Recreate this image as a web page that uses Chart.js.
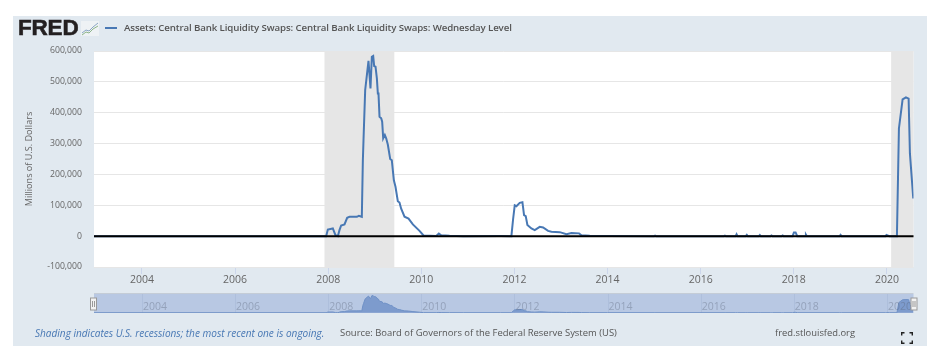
<!DOCTYPE html>
<html>
<head>
<meta charset="utf-8">
<title>Central Bank Liquidity Swaps</title>
<script src="https://cdn.jsdelivr.net/npm/chart.js@4"></script>
<style>
    html, body { margin: 0; padding: 0; background: #fff; }
    body { width: 939px; height: 363px; position: relative; overflow: hidden; font-family: "Open Sans", sans-serif; }
    #panel { position: absolute; left: 13px; top: 16px; width: 914px; height: 330px; background: #e1e9f0; }
    canvas { position: absolute; left: 0; }
    #mainChart { top: 0; }
    #navChart { top: 288px; }
    .txt { position: absolute; white-space: nowrap; }
    #logo { left: 18px; top: 15px; font: bold 22.5px/26px "Liberation Sans", sans-serif; color: #231f20; letter-spacing: -0.2px; -webkit-text-stroke: 0.6px #231f20; }
    #legendLine { position: absolute; left: 105px; top: 27px; width: 12px; height: 2px; background: #4878b4; }
    #title { left: 124px; top: 20px; font: 600 9.7px/16px "Open Sans", sans-serif; color: #555; letter-spacing: -0.12px; }
    #shading { left: 35px; top: 325px; font: italic 10.05px/16px "Open Sans", sans-serif; color: #4878b4; }
    #source { left: 340px; top: 325px; font: 9.45px/16px "Open Sans", sans-serif; color: #555; }
    #site { left: 775px; top: 325px; font: 9.4px/16px "Open Sans", sans-serif; color: #555; }
    svg { position: absolute; }
</style>
</head>
<body>
<div id="panel"></div>
<canvas id="mainChart" width="939" height="363"></canvas>
<canvas id="navChart" width="939" height="34"></canvas>
<div class="txt" id="logo">FRED</div>
<svg style="left:81px;top:21px" width="18" height="15" viewBox="0 0 18 15">
    <rect x="0" y="0" width="18" height="15" fill="#eef2f5"/>
    <polyline points="1,12 5,9 8,10 12,6 17,2" fill="none" stroke="#8aa6c4" stroke-width="1"/>
    <polyline points="1,14 5,11 8,12 12,8 17,5" fill="none" stroke="#8db58a" stroke-width="1"/>
</svg>
<div id="legendLine"></div>
<div class="txt" id="title">Assets: Central Bank Liquidity Swaps: Central Bank Liquidity Swaps: Wednesday Level</div>
<div class="txt" id="shading">Shading indicates U.S. recessions; the most recent one is ongoing.</div>
<div class="txt" id="source">Source: Board of Governors of the Federal Reserve System (US)</div>
<div class="txt" id="site">fred.stlouisfed.org</div>
<svg style="left:901px;top:332px" width="12" height="12" viewBox="0 0 12 12">
    <path d="M0.7 3.5V0.7H3.5M8.5 0.7H11.3V3.5M11.3 8.5V11.3H8.5M3.5 11.3H0.7V8.5" fill="none" stroke="#222" stroke-width="1.4"/>
</svg>
<script>
// values, x is a decimal year, y is millions of dollars
var swapYears = [
    2002.97, 2007.956, 2007.992, 2008.099, 2008.156, 2008.207, 2008.242, 2008.278, 2008.35, 2008.407,
    2008.457, 2008.615, 2008.658, 2008.722, 2008.744, 2008.758, 2008.794, 2008.865, 2008.908, 2008.937,
    2008.966, 2008.987, 2009.016, 2009.045, 2009.066, 2009.08, 2009.102, 2009.138, 2009.159, 2009.181,
    2009.216, 2009.245, 2009.281, 2009.331, 2009.366, 2009.41, 2009.445, 2009.495, 2009.531, 2009.567,
    2009.639, 2009.725, 2009.818, 2009.961, 2010.047, 2010.319, 2010.376, 2010.426, 2010.605, 2010.9,
    2011.7, 2011.934, 2011.97, 2012.006, 2012.042, 2012.113, 2012.171, 2012.206, 2012.242, 2012.278,
    2012.364, 2012.436, 2012.543, 2012.615, 2012.722, 2012.794, 2012.973, 2013.116, 2013.223, 2013.388,
    2013.438, 2013.617, 2014.0, 2015.0, 2015.02, 2015.04, 2016.5, 2016.52, 2016.54, 2016.75,
    2016.77, 2016.79, 2016.97, 2016.99, 2017.01, 2017.25, 2017.27, 2017.29, 2017.5, 2017.52,
    2017.54, 2017.74, 2017.76, 2017.78, 2017.973, 2018.002, 2018.038, 2018.073, 2018.24, 2018.26,
    2018.28, 2018.985, 2019.004, 2019.025, 2019.97, 2019.99, 2020.05, 2020.214, 2020.257, 2020.336,
    2020.408, 2020.465, 2020.493, 2020.565
];
var swapValues = [
    0, 0, 21600, 25000, 3000, 0, 19500, 34600, 37800, 59500,
    62700, 62700, 66000, 62700, 245000, 311000, 473000, 568000, 479000, 581000,
    584000, 551000, 549000, 511000, 462000, 462000, 387000, 382000, 371000, 317000,
    328000, 317000, 296000, 250000, 246000, 181000, 160000, 113000, 109000, 89000,
    63000, 57000, 38000, 17000, 2000, 500, 8600, 3000, 1000, 0,
    500, 0, 54000, 100000, 97000, 108000, 110000, 68000, 65000, 36000,
    25000, 19500, 30000, 28000, 17000, 14000, 13000, 6500, 10000, 9000,
    3000, 1000, 300, 0, 1500, 0, 0, 1500, 0, 0,
    6000, 0, 0, 4000, 0, 0, 3500, 0, 0, 2000,
    0, 0, 2000, 0, 0, 12000, 12000, 0, 0, 5000,
    0, 0, 4000, 0, 0, 4000, 0, 0, 349000, 443000,
    450000, 446000, 268000, 122000
];
var tickYears = [2004, 2006, 2008, 2010, 2012, 2014, 2016, 2018, 2020];
var yTicks = [-100000, 0, 100000, 200000, 300000, 400000, 500000, 600000];
var recessionStarts = [2007.92, 2020.09];
var recessionEnds = [2009.42, 2020.57];
var xMin = 2002.97;
var xMax = 2020.57;

function swapPoints() {
    var points = [];
    for (var i = 0; i < swapYears.length; i++) {
        points.push({ x: swapYears[i], y: swapValues[i] });
    }
    return points;
}

function setTicks(list) {
    return function(scale) {
        scale.ticks = list.map(function(v) { return { value: v }; });
    };
}

// white plot area and the grey recession bands
var plotBackground = {
    id: 'plotBackground',
    beforeDraw: function(chart) {
        var ctx = chart.ctx, area = chart.chartArea, x = chart.scales.x;
        ctx.save();
        ctx.fillStyle = '#ffffff';
        ctx.fillRect(area.left, area.top, area.right - area.left, area.bottom - area.top);
        ctx.fillStyle = '#e6e6e6';
        for (var i = 0; i < recessionStarts.length; i++) {
            var a = x.getPixelForValue(recessionStarts[i]);
            var b = x.getPixelForValue(recessionEnds[i]);
            ctx.fillRect(a, area.top, b - a, area.bottom - area.top);
        }
        ctx.restore();
    },
    // the black zero line sits on top of the series
    afterDatasetsDraw: function(chart) {
        var ctx = chart.ctx, area = chart.chartArea;
        var zero = chart.scales.y.getPixelForValue(0);
        ctx.save();
        ctx.strokeStyle = '#000000';
        ctx.lineWidth = 2;
        ctx.beginPath();
        ctx.moveTo(area.left, zero);
        ctx.lineTo(area.right, zero);
        ctx.stroke();
        ctx.restore();
    }
};

var mainChart = new Chart(document.getElementById('mainChart'), {
    type: 'line',
    data: {
        datasets: [{
            data: swapPoints(),
            borderColor: '#4878b4',
            borderWidth: 2,
            pointRadius: 0,
            tension: 0
        }]
    },
    plugins: [plotBackground],
    options: {
        responsive: false,
        animation: false,
        layout: { padding: { left: 20, right: 25.5, top: 51, bottom: 76 } },
        plugins: { legend: { display: false }, tooltip: { enabled: false } },
        scales: {
            x: {
                type: 'linear',
                min: xMin,
                max: xMax,
                afterBuildTicks: setTicks(tickYears),
                afterFit: function(scale) { scale.height = 20; },
                border: { display: false },
                grid: { drawOnChartArea: false, tickLength: 7, tickColor: '#ccd6eb' },
                ticks: {
                    padding: 0,
                    maxRotation: 0,
                    autoSkip: false,
                    color: '#666',
                    font: { family: 'Open Sans', size: 10.5 },
                    callback: function(v) { return String(v); }
                }
            },
            y: {
                min: -100000,
                max: 600000,
                afterBuildTicks: setTicks(yTicks),
                afterFit: function(scale) { scale.width = 74; },
                border: { display: false },
                title: {
                    display: true,
                    text: 'Millions of U.S. Dollars',
                    color: '#666',
                    font: { family: 'Open Sans', size: 9.1 },
                    padding: { top: 4, bottom: 0 }
                },
                grid: {
                    drawTicks: false,
                    color: '#e6e6e6',
                    lineWidth: 1
                },
                ticks: {
                    padding: 12,
                    color: '#666',
                    font: { family: 'Open Sans', size: 8.7 },
                    callback: function(v) { return v.toLocaleString('en-US'); }
                }
            }
        }
    }
});

// navigator strip: same data, its year labels sit inside the strip
function drawHandle(ctx, x, top) {
    ctx.fillStyle = '#f2f2f2';
    ctx.strokeStyle = '#999999';
    ctx.lineWidth = 1;
    ctx.fillRect(x - 3, top, 6, 12);
    ctx.strokeRect(x - 3, top, 6, 12);
    ctx.beginPath();
    ctx.moveTo(x - 1, top + 3);
    ctx.lineTo(x - 1, top + 9);
    ctx.moveTo(x + 1, top + 3);
    ctx.lineTo(x + 1, top + 9);
    ctx.stroke();
}

var navStrip = {
    id: 'navStrip',
    beforeDraw: function(chart) {
        var ctx = chart.ctx, area = chart.chartArea, x = chart.scales.x;
        ctx.save();
        ctx.fillStyle = '#b8c8e3';
        ctx.fillRect(area.left, area.top, area.right - area.left, area.bottom - area.top);
        ctx.fillStyle = '#c4ccd6';
        ctx.fillRect(area.left, area.top - 1, area.right - area.left, 1);
        ctx.strokeStyle = '#aebfdc';
        tickYears.forEach(function(year) {
            var px = Math.round(x.getPixelForValue(year)) + 0.5;
            ctx.beginPath();
            ctx.moveTo(px, area.top);
            ctx.lineTo(px, area.bottom);
            ctx.stroke();
        });
        ctx.restore();
    },
    afterDraw: function(chart) {
        var ctx = chart.ctx, area = chart.chartArea, x = chart.scales.x;
        ctx.save();
        ctx.fillStyle = 'rgba(90,100,120,0.38)';
        ctx.font = '10.5px "Open Sans"';
        ctx.textAlign = 'center';
        ctx.textBaseline = 'middle';
        tickYears.forEach(function(year) {
            ctx.fillText(String(year), x.getPixelForValue(year) + 13, area.top + 13);
        });
        drawHandle(ctx, area.left - 0.5, area.top + 4);
        drawHandle(ctx, area.right + 0.5, area.top + 4);
        ctx.restore();
    }
};

var navChart = new Chart(document.getElementById('navChart'), {
    type: 'line',
    data: {
        datasets: [{
            data: swapPoints(),
            borderColor: '#6f91c6',
            borderWidth: 1,
            backgroundColor: '#7d9bcd',
            fill: 'origin',
            pointRadius: 0,
            tension: 0
        }]
    },
    plugins: [navStrip],
    options: {
        responsive: false,
        animation: false,
        layout: { padding: { left: 94, right: 25.5, top: 6, bottom: 9 } },
        plugins: { legend: { display: false }, tooltip: { enabled: false } },
        scales: {
            x: { type: 'linear', min: xMin, max: xMax, display: false },
            y: { min: -10000, max: 640000, display: false }
        }
    }
});
</script>
</body>
</html>
